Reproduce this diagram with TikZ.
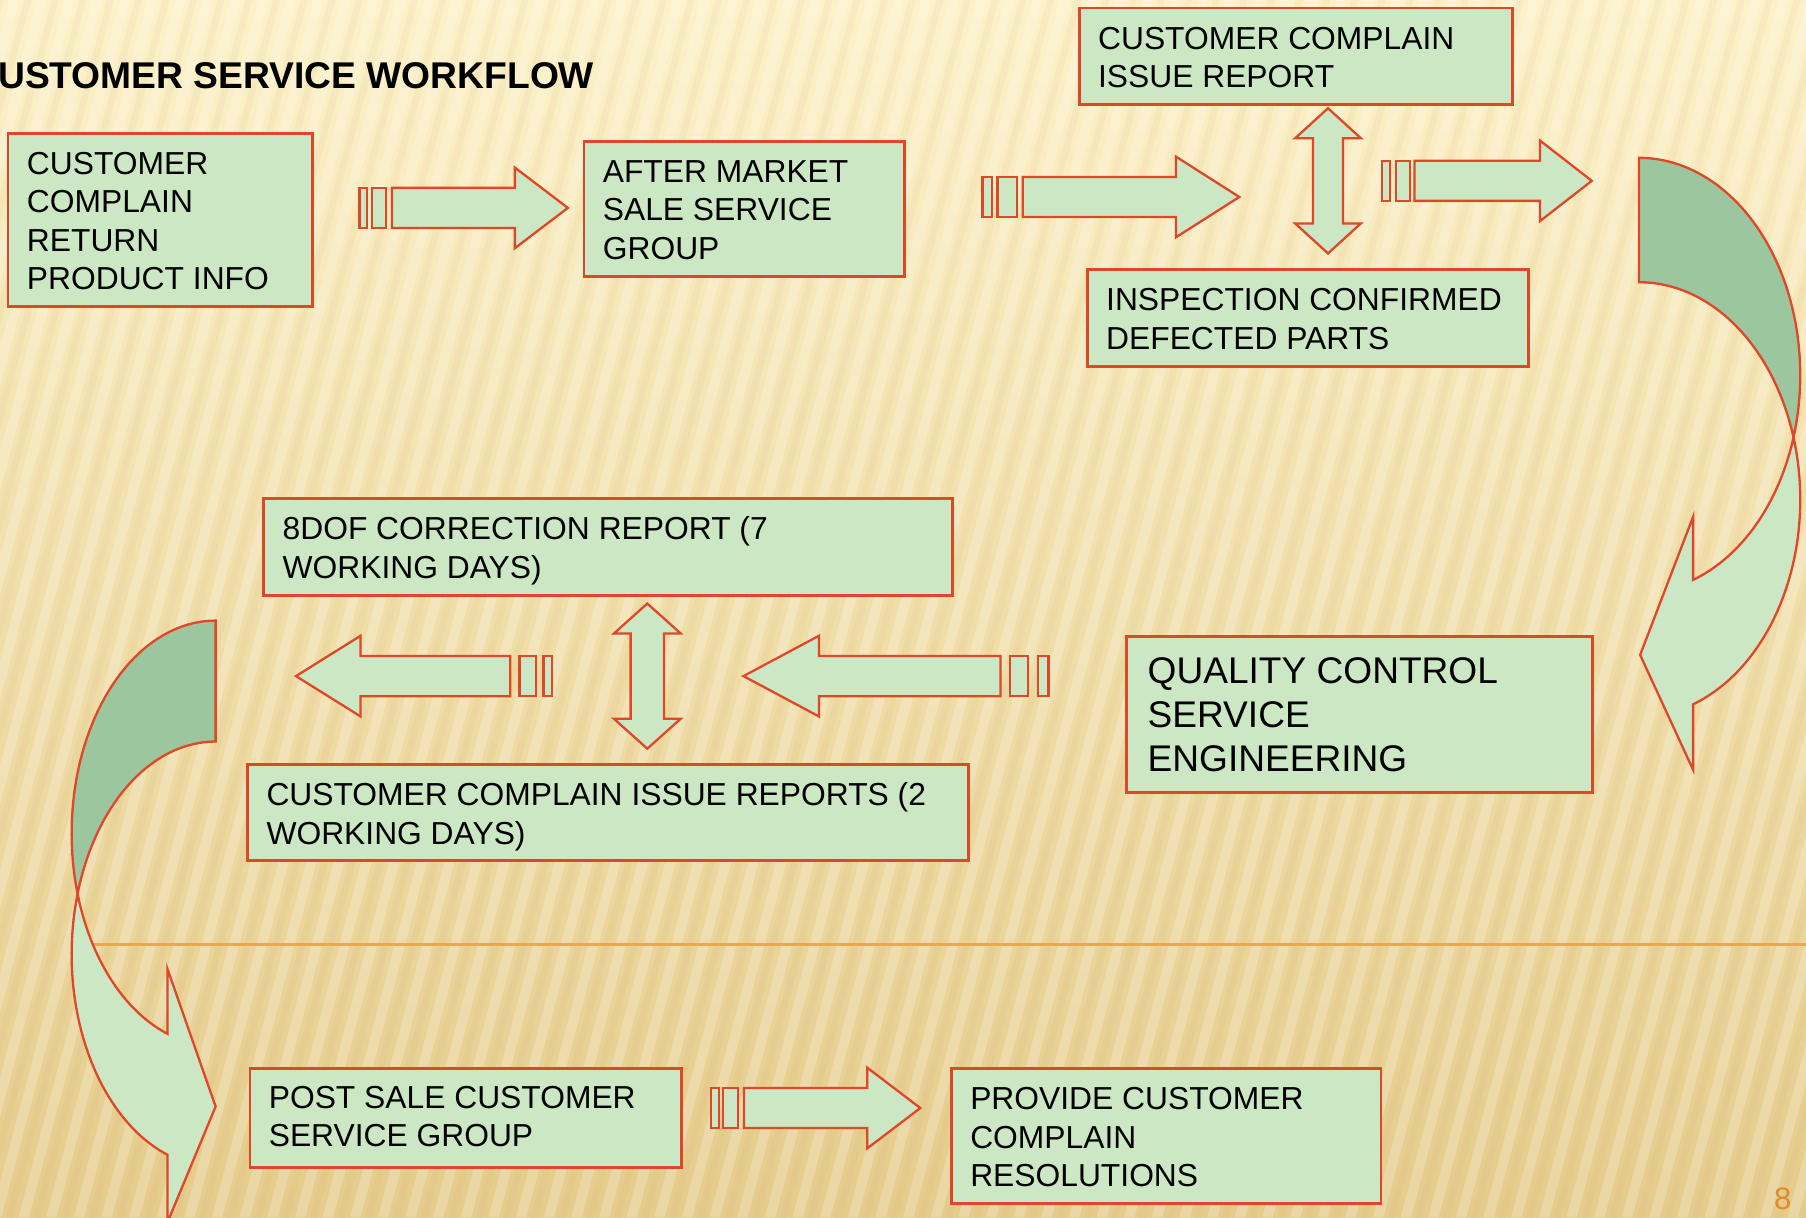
\documentclass[tikz,border=0pt]{standalone}
\usepackage{fontspec}
\setmainfont{Liberation Sans}
\definecolor{bgtop}{RGB}{252,241,200}
\definecolor{bgmid}{RGB}{244,224,166}
\definecolor{bgbot}{RGB}{229,204,140}
\definecolor{boxfill}{RGB}{204,231,196}
\definecolor{darkfill}{RGB}{156,198,158}
\definecolor{redline}{RGB}{224,70,40}
\definecolor{orangeline}{RGB}{232,168,80}
\definecolor{pagenum}{RGB}{222,140,40}
\newcommand\capstrut{\rule{0pt}{0.75em}}
% right/left striped arrow: x0, bar1 end, bar2 start, bar2 end, shaft start, head base, tip, y centre
\newcommand\stripedarrow[8]{%
  \draw[arrowst] ({#1},{#8-17.4}) rectangle ({#2},{#8+17.4});
  \draw[arrowst] ({#3},{#8-17.4}) rectangle ({#4},{#8+17.4});
  \draw[arrowst] ({#5},{#8-17.4}) -- ({#6},{#8-17.4}) -- ({#6},{#8-35}) -- ({#7},{#8})
     -- ({#6},{#8+35}) -- ({#6},{#8+17.4}) -- ({#5},{#8+17.4}) -- cycle;}
% vertical double arrow: x centre, top tip, bottom tip, head half width, shaft half width
\newcommand\dblvarrow[5]{%
  \draw[arrowst] ({#1},{#2}) -- ({#1+#4},{#2+26}) -- ({#1+#5},{#2+26}) -- ({#1+#5},{#3-26})
     -- ({#1+#4},{#3-26}) -- ({#1},{#3}) -- ({#1-#4},{#3-26}) -- ({#1-#5},{#3-26})
     -- ({#1-#5},{#2+26}) -- ({#1-#4},{#2+26}) -- cycle;}
\begin{document}
\begin{tikzpicture}[x=0.5pt,y=-0.5pt,
  boxst/.style={draw=redline, fill=boxfill, line width=1.2pt, rectangle, inner sep=0pt, outer sep=0pt, anchor=north west},
  txt/.style={anchor=north west, inner sep=0pt, align=left, font=\fontsize{13.8pt}{16.7pt}\selectfont},
  bigtxt/.style={anchor=north west, inner sep=0pt, align=left, font=\fontsize{16.1pt}{19.1pt}\selectfont},
  arrowst/.style={draw=redline, fill=boxfill, line width=1pt},
  darkst/.style={draw=redline, fill=darkfill, line width=1pt},
]
\useasboundingbox (0,0) rectangle (1568,1057);
\clip (0,0) rectangle (1568,1057);
% background
\fill[top color=bgtop, middle color=bgmid, bottom color=bgbot] (0,0) rectangle (1568,1057);
\foreach \i in {-320,-296,...,1580} {
  \fill[white, opacity=0.22] (\i,1057) -- (\i+9,1057) -- (\i+289,0) -- (\i+280,0) -- cycle;
  \fill[brown, opacity=0.05] (\i+13,1057) -- (\i+19,1057) -- (\i+299,0) -- (\i+293,0) -- cycle;
}
\draw[orangeline, line width=1pt] (80,820) -- (1568,820);

% title
\node[anchor=base west, inner sep=0pt, font=\bfseries\fontsize{16.15pt}{19pt}\selectfont] (title) at (-2,76.7) {USTOMER SERVICE WORKFLOW};

% curved arrow right
\draw[arrowst] plot[domain=-16.6:70.4, samples=60] ({1423+140*cos(\x)},{433.7+188.7*sin(\x)})
  -- (1470,668.4) -- (1424,568.6) -- (1470,448.6)
  -- plot[domain=70.4:16.6, samples=60] ({1423+140*cos(\x)},{325.7+188.7*sin(\x)}) -- cycle;
\draw[darkst] plot[domain=-90:16.6, samples=60] ({1423+140*cos(\x)},{325.7+188.7*sin(\x)})
  -- plot[domain=-16.6:-90, samples=60] ({1423+140*cos(\x)},{433.7+188.7*sin(\x)}) -- cycle;

% curved arrow left
\draw[arrowst] plot[domain=-16.5:70.5, samples=60] ({187.2-125*cos(\x)},{828.5+184.7*sin(\x)})
  -- (145.5,1061) -- (187.2,960.7) -- (145.5,841.5)
  -- plot[domain=70.5:16.5, samples=60] ({187.2-125*cos(\x)},{723.5+184.7*sin(\x)}) -- cycle;
\draw[darkst] plot[domain=-90:16.5, samples=60] ({187.2-125*cos(\x)},{723.5+184.7*sin(\x)})
  -- plot[domain=-16.5:-90, samples=60] ({187.2-125*cos(\x)},{828.5+184.7*sin(\x)}) -- cycle;

% boxes
\node[boxst, minimum width=132pt, minimum height=75pt] (b1) at (7,116) {};
\node[boxst, minimum width=139pt, minimum height=58.5pt] (b2) at (507,123) {};
\node[boxst, minimum width=188pt, minimum height=42pt] (b3) at (937,7) {};
\node[boxst, minimum width=191.5pt, minimum height=42pt] (b4) at (944,234) {};
\node[boxst, minimum width=202.25pt, minimum height=67.65pt] (b5) at (978,552.7) {};
\node[boxst, minimum width=299pt, minimum height=42pt] (b6) at (229,433) {};
\node[boxst, minimum width=313pt, minimum height=41.5pt] (b7) at (215,664) {};
\node[boxst, minimum width=187.5pt, minimum height=43pt] (b8) at (217,927.4) {};
\node[boxst, minimum width=186.5pt, minimum height=58.5pt] (b9) at (826,928) {};

% texts
\node[txt] (t1) at ([shift={(16,14.1)}]b1.north west) {\capstrut CUSTOMER\\COMPLAIN\\RETURN\\PRODUCT INFO};
\node[txt] (t2) at ([shift={(16,14.3)}]b2.north west) {\capstrut AFTER MARKET\\SALE SERVICE\\GROUP};
\node[txt] (t3) at ([shift={(16,14.5)}]b3.north west) {\capstrut CUSTOMER COMPLAIN\\ISSUE REPORT};
\node[txt] (t4) at ([shift={(16,14.5)}]b4.north west) {\capstrut INSPECTION CONFIRMED\\DEFECTED PARTS};
\node[bigtxt] (t5) at ([shift={(18,15.75)}]b5.north west) {\capstrut QUALITY CONTROL\\SERVICE\\ENGINEERING};
\node[txt] (t6) at ([shift={(16,14.5)}]b6.north west) {\capstrut 8DOF CORRECTION REPORT (7\\WORKING DAYS)};
\node[txt] (t7) at ([shift={(16,14.3)}]b7.north west) {\capstrut CUSTOMER COMPLAIN ISSUE REPORTS (2\\WORKING DAYS)};
\node[txt] (t8) at ([shift={(16,13.9)}]b8.north west) {\capstrut POST SALE CUSTOMER\\SERVICE GROUP};
\node[txt] (t9) at ([shift={(16,14.3)}]b9.north west) {\capstrut PROVIDE CUSTOMER\\COMPLAIN\\RESOLUTIONS};

% striped arrows
\stripedarrow{312}{318.6}{323}{335}{340.3}{447}{493}{180.5}
\stripedarrow{853}{861}{866}{883}{888}{1021}{1076}{171}
\stripedarrow{1200}{1207}{1212}{1224}{1228}{1337}{1382}{157}
\stripedarrow{910.4}{901.4}{892.7}{876.7}{868.6}{711}{645.5}{587}
\stripedarrow{479}{472}{465.5}{451}{443}{313}{257}{587}
\stripedarrow{617}{624}{628}{641}{646}{753}{799}{962}

% double arrows
\dblvarrow{1153}{94}{220}{28.5}{13}
\dblvarrow{562}{524}{650}{29}{14.5}

% page number
\node[anchor=base west, inner sep=0pt, text=pagenum, font=\fontsize{13.5pt}{16pt}\selectfont] (pnum) at (1540,1050) {8};
\end{tikzpicture}
\end{document}
